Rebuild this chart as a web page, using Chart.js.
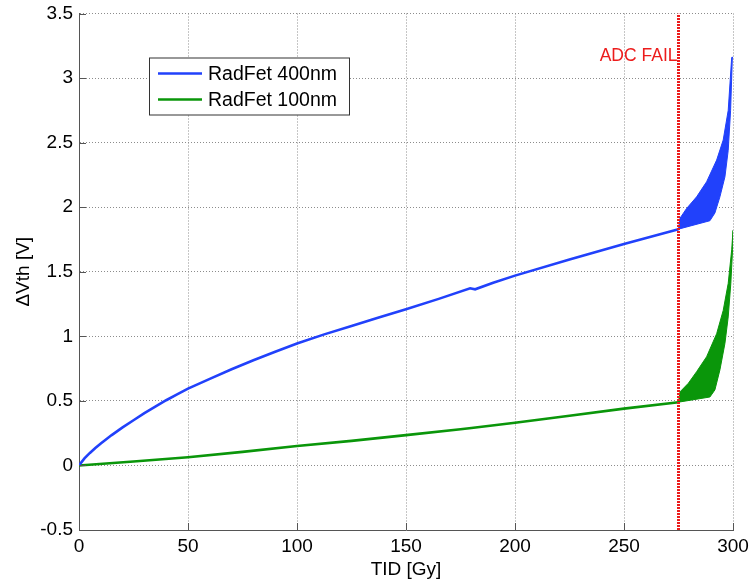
<!DOCTYPE html>
<html>
<head>
<meta charset="utf-8">
<script src="https://cdn.jsdelivr.net/npm/chart.js@4.4.0/dist/chart.umd.min.js"></script>
<style>
  html, body { margin: 0; padding: 0; background: #fff; }
  #wrap { width: 752px; height: 581px; }
</style>
</head>
<body>
<div id="wrap"><canvas id="c" width="752" height="581"></canvas></div>
<script>
// RadFet threshold voltage shift against total ionising dose

// 400nm oxide, smooth part up to the ADC failure
const tid400 = [0, 2.5, 5, 7.5, 10, 15, 20, 25, 30, 35, 40, 45, 50, 60, 70, 80, 90, 100, 112.5, 125, 137.5, 150, 165, 179.4, 181.7, 190, 200, 225, 250, 275];
const vth400 = [0, 0.055, 0.097, 0.135, 0.17, 0.235, 0.295, 0.35, 0.405, 0.455, 0.505, 0.55, 0.595, 0.67, 0.745, 0.815, 0.88, 0.945, 1.015, 1.08, 1.145, 1.21, 1.29, 1.372, 1.364, 1.415, 1.47, 1.595, 1.715, 1.83];

// 100nm oxide, smooth part
const tid100 = [0, 25, 50, 75, 100, 125, 150, 175, 180, 200, 225, 250, 275];
const vth100 = [0, 0.03, 0.063, 0.105, 0.15, 0.19, 0.235, 0.28, 0.29, 0.33, 0.385, 0.44, 0.49];

// noisy readings after the ADC failure: upper / lower envelopes
const tid400Hi = [275, 275.7, 278.7, 283.3, 287.9, 292.5, 295.5, 297.8, 299.4, 300];
const vth400Hi = [1.83, 1.915, 1.99, 2.08, 2.197, 2.365, 2.52, 2.75, 3.16, 3.16];
const tid400Lo = [275, 289.4, 291.7, 294, 296.3, 297.8, 298.9, 299.7, 300];
const vth400Lo = [1.83, 1.895, 1.955, 2.08, 2.235, 2.44, 2.75, 3.16, 3.16];

const tid100Hi = [275, 275.7, 279.5, 283.3, 287.9, 292.5, 295.5, 297.8, 299.4, 300];
const vth100Hi = [0.49, 0.57, 0.636, 0.726, 0.842, 1.02, 1.2, 1.41, 1.67, 1.82];
const tid100Lo = [275, 289.4, 291.7, 294, 296.3, 297.8, 299, 299.8, 300];
const vth100Lo = [0.49, 0.53, 0.585, 0.74, 0.945, 1.15, 1.41, 1.67, 1.82];

const failTid = 275;
const failLabel = "ADC FAIL";

const xTicks = [0, 50, 100, 150, 200, 250, 300];
const xTickLabels = ["0", "50", "100", "150", "200", "250", "300"];
const yTicks = [-0.5, 0, 0.5, 1, 1.5, 2, 2.5, 3, 3.5];
const yTickLabels = ["-0.5", "0", "0.5", "1", "1.5", "2", "2.5", "3", "3.5"];

const BLUE = "#2141fb";
const GREEN = "#0a960a";
const RED = "#ec1c1c";
const FONT = 'Arial, "Liberation Sans", sans-serif';

const pts = (xs, ys) => xs.map((x, i) => ({ x: x, y: ys[i] }));
// closed outline: upper envelope forward, lower envelope back
const band = (xh, yh, xl, yl) => pts(xh, yh).concat(pts(xl, yl).reverse());

const datasets = [
  {
    label: "RadFet 400nm",
    data: pts(tid400, vth400),
    borderColor: BLUE,
    borderWidth: 2.6,
    order: 2,
  },
  {
    label: "RadFet 100nm",
    data: pts(tid100, vth100),
    borderColor: GREEN,
    borderWidth: 2.6,
    order: 2,
  },
  {
    label: "",
    data: band(tid400Hi, vth400Hi, tid400Lo, vth400Lo),
    borderColor: BLUE,
    backgroundColor: BLUE,
    borderWidth: 1,
    fill: "shape",
    order: 3,
  },
  {
    label: "",
    data: band(tid100Hi, vth100Hi, tid100Lo, vth100Lo),
    borderColor: GREEN,
    backgroundColor: GREEN,
    borderWidth: 1,
    fill: "shape",
    order: 3,
  },
  {
    label: "",
    data: [{ x: failTid, y: -0.5 }, { x: failTid, y: 3.5 }],
    borderColor: RED,
    borderWidth: 3,
    borderDash: [2, 1],
    order: 0,
  },
];

const legendItems = [0, 1];

const extras = {
  id: "extras",
  afterDatasetsDraw(chart) {
    const { ctx, chartArea: a, scales } = chart;
    const x = scales.x, y = scales.y;
    ctx.save();

    // inward tick marks
    ctx.strokeStyle = "#555";
    ctx.lineWidth = 1;
    ctx.beginPath();
    xTicks.forEach((v) => {
      const px = Math.round(x.getPixelForValue(v)) + 0.5;
      ctx.moveTo(px, a.bottom);
      ctx.lineTo(px, a.bottom - 7);
    });
    yTicks.forEach((v) => {
      const py = Math.round(y.getPixelForValue(v)) + 0.5;
      ctx.moveTo(a.left, py);
      ctx.lineTo(a.left + 7, py);
    });
    ctx.stroke();

    // failure marker text
    ctx.fillStyle = RED;
    ctx.font = "17.5px " + FONT;
    ctx.textAlign = "right";
    ctx.textBaseline = "alphabetic";
    ctx.fillText(failLabel, x.getPixelForValue(failTid) - 1, a.top + 47);

    // legend box
    const bx = a.left + 70, by = a.top + 44, bw = 200, bh = 57;
    ctx.fillStyle = "#fff";
    ctx.fillRect(bx, by, bw, bh);
    ctx.strokeStyle = "#333";
    ctx.strokeRect(bx + 0.5, by + 0.5, bw, bh);
    ctx.font = "19.5px " + FONT;
    ctx.textAlign = "left";
    ctx.textBaseline = "middle";
    legendItems.forEach((di, i) => {
      const ds = chart.data.datasets[di];
      const ly = by + 16 + i * 26;
      ctx.strokeStyle = ds.borderColor;
      ctx.lineWidth = 2.6;
      ctx.beginPath();
      ctx.moveTo(bx + 9, ly);
      ctx.lineTo(bx + 53, ly);
      ctx.stroke();
      ctx.fillStyle = "#000";
      ctx.fillText(ds.label, bx + 59, ly + 1);
    });
    ctx.restore();
  },
};

new Chart(document.getElementById("c"), {
  type: "scatter",
  data: { datasets: datasets },
  options: {
    responsive: false,
    animation: false,
    showLine: true,
    elements: { point: { radius: 0, hoverRadius: 0 }, line: { tension: 0 } },
    layout: { padding: { top: 13.5, right: 19, left: 0, bottom: 0 } },
    plugins: { legend: { display: false }, tooltip: { enabled: false } },
    scales: {
      x: {
        type: "linear",
        min: 0,
        max: 300,
        afterBuildTicks: (s) => { s.ticks = xTicks.map((v) => ({ value: v })); },
        afterFit: (s) => { s.height = 51; s.paddingLeft = 0; s.paddingRight = 0; },
        ticks: {
          color: "#000",
          font: { family: FONT, size: 19 },
          padding: 5,
          maxRotation: 0,
          callback: (v, i) => xTickLabels[i],
        },
        grid: { color: "#8c8c8c", lineWidth: 1, drawTicks: false },
        border: { display: true, color: "#555", width: 1, dash: [1, 2] },
        title: {
          display: true,
          text: "TID [Gy]",
          color: "#000",
          font: { family: FONT, size: 19 },
          padding: { top: 0, bottom: 0 },
        },
      },
      y: {
        type: "linear",
        min: -0.5,
        max: 3.5,
        afterBuildTicks: (s) => { s.ticks = yTicks.map((v) => ({ value: v })); },
        afterFit: (s) => { s.width = 79; s.paddingTop = 0; s.paddingBottom = 0; },
        ticks: {
          color: "#000",
          font: { family: FONT, size: 19 },
          padding: 6,
          callback: (v, i) => yTickLabels[i],
        },
        grid: { color: "#8c8c8c", lineWidth: 1, drawTicks: false },
        border: { display: true, color: "#555", width: 1, dash: [1, 2] },
        title: {
          display: true,
          text: "\u0394Vth [V]",
          color: "#000",
          font: { family: FONT, size: 19 },
          padding: { top: 12, bottom: 0 },
        },
      },
    },
  },
  plugins: [extras],
});
</script>
</body>
</html>
